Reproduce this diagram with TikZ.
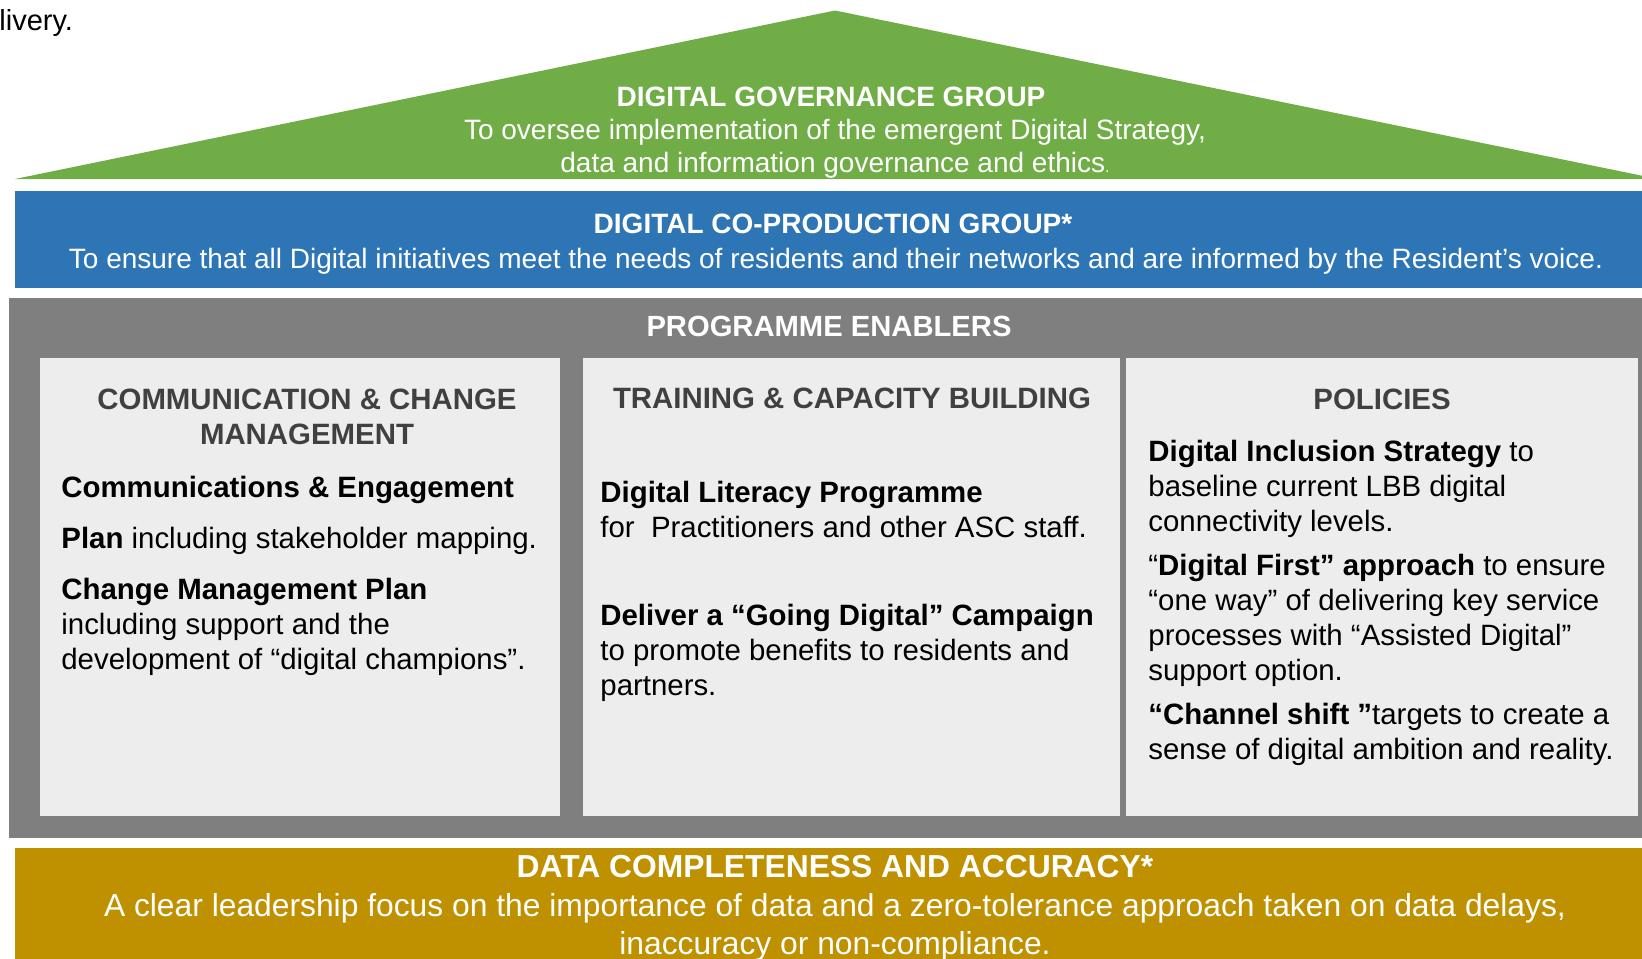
\documentclass[tikz,border=0pt]{standalone}
\usepackage{fontspec}
\setmainfont{Liberation Sans}
\usetikzlibrary{positioning}
\definecolor{roofgreen}{RGB}{112,173,71}
\definecolor{coprodblue}{RGB}{46,117,182}
\definecolor{enablergray}{RGB}{127,127,127}
\definecolor{panelgray}{RGB}{237,237,237}
\definecolor{datagold}{RGB}{191,144,0}
\definecolor{headgray}{RGB}{64,64,64}
\tikzset{
  bandtext/.style={text=white, align=center, inner sep=0pt, anchor=base,
    font=\fontsize{14}{16.75}\selectfont},
  bandtitle/.style={bandtext, font=\bfseries\fontsize{14}{16.75}\selectfont},
  panelhead/.style={text=headgray, align=center, inner sep=0pt, anchor=base,
    font=\bfseries\fontsize{14.7}{17.25}\selectfont},
  paneltext/.style={text=black, align=left, inner sep=0pt, anchor=base west,
    font=\fontsize{14.7}{17.5}\selectfont}
}

\begin{document}
\begin{tikzpicture}[x=0.5pt,y=-0.5pt]
\useasboundingbox (0,0) rectangle (1642,958);
% house shapes
\fill[roofgreen] (15,179) -- (835,10.5) -- (1658,179) -- cycle;
\fill[coprodblue] (15,191) rectangle (1660,288);
\fill[enablergray] (9,298) rectangle (1660,838);
\fill[panelgray] (40,358) rectangle (560,816);
\fill[panelgray] (583,358) rectangle (1120,816);
\fill[panelgray] (1126,358) rectangle (1638,816);
\fill[datagold] (15,848) rectangle (1660,970);

\node[paneltext, font=\fontsize{14.5}{17}\selectfont] (lead) at (-1,30) {livery.};

% roof (multi-line nodes sit on their last line)
\node[bandtitle] (govtitle) at (831,106) {DIGITAL GOVERNANCE GROUP};
\node[bandtext] (govtext) at (835,172.5)
  {To oversee implementation of the emergent Digital Strategy,\\
   data and information governance and ethics{\fontsize{8}{8}\selectfont.}};

% co-production band
\node[bandtitle] (coptitle) at (833,233.5) {DIGITAL CO-PRODUCTION GROUP*};
\node[bandtext] (coptext) at (836,268)
  {To ensure that all Digital initiatives meet the needs of residents and their networks and are informed by the Resident’s voice.};

% enablers
\node[bandtitle, font=\bfseries\fontsize{14.6}{17}\selectfont] (enabtitle) at (829,336) {PROGRAMME ENABLERS};
\node[panelhead] (commhead) at (307,444) {COMMUNICATION \& CHANGE\\MANAGEMENT};
\node[panelhead] (trainhead) at (852,408.5) {TRAINING \& CAPACITY BUILDING};
\node[panelhead] (polhead) at (1382,409.5) {POLICIES};

\node[paneltext] (comm1) at (61,497) {\textbf{Communications \& Engagement}};
\node[paneltext] (comm2) at (61,548) {\textbf{Plan} including stakeholder mapping.};
\node[paneltext] (comm3) at (61,669)
  {\textbf{Change Management Plan}\\including support and the\\development of “digital champions”.};

\node[paneltext] (train1) at (600,537)
  {\textbf{Digital Literacy Programme}\\for~ Practitioners and other ASC staff.};
\node[paneltext] (train2) at (600,695)
  {\textbf{Deliver a “Going Digital” Campaign}\\to promote benefits to residents and\\partners.};

\node[paneltext] (pol1) at (1148,531)
  {\textbf{Digital Inclusion Strategy} to\\baseline current LBB digital\\connectivity levels.};
\node[paneltext] (pol2) at (1148,680.7)
  {“\textbf{Digital First” approach} to ensure\\“one way” of delivering key service\\processes with “Assisted Digital”\\support option.};
\node[paneltext] (pol3) at (1148,759)
  {\textbf{“Channel shift ”}targets to create a\\sense of digital ambition and reality.};

% data band
\node[bandtitle, font=\bfseries\fontsize{15.9}{19}\selectfont] (datatitle) at (835,877.6) {DATA COMPLETENESS AND ACCURACY*};
\node[bandtext, font=\fontsize{15.9}{19}\selectfont] (datatext) at (835,954)
  {A clear leadership focus on the importance of data and a zero-tolerance approach taken on data delays,\\
   inaccuracy or non-compliance.};
\end{tikzpicture}
\end{document}
